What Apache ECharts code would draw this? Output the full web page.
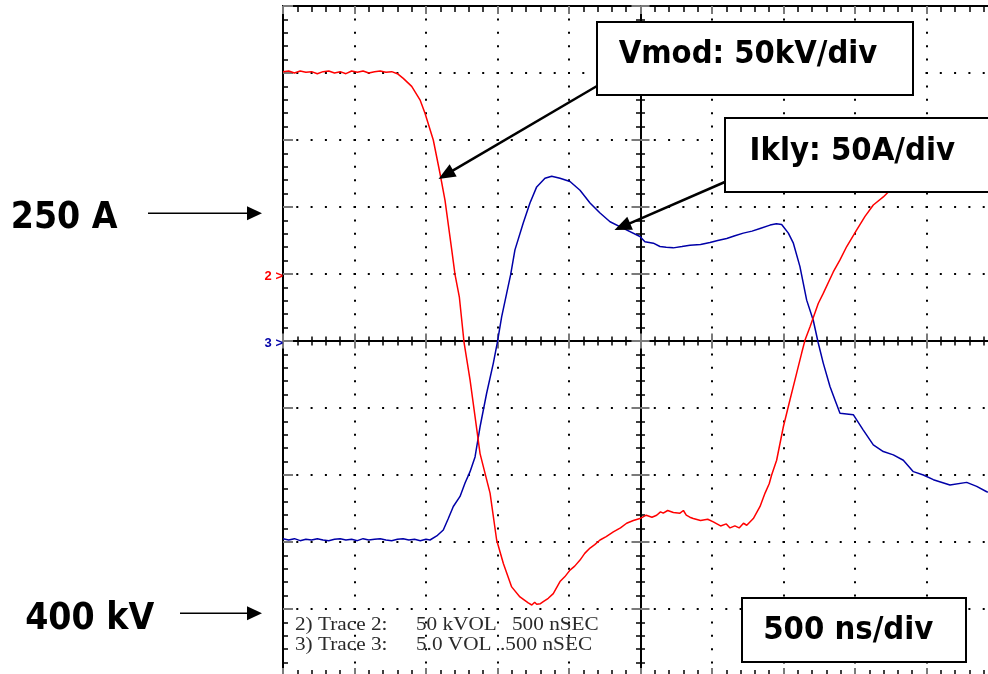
<!DOCTYPE html>
<html><head><meta charset="utf-8">
<script src="https://cdn.jsdelivr.net/npm/echarts@6/dist/echarts.min.js"></script>
<style>html,body{margin:0;padding:0;background:#fff}#c{width:988px;height:674px}</style>
</head><body><div id="c"></div>
<script>
// ---- data: time in ns (screen centre = 0), amplitude in screen divisions ----
const vmodTimeNs = [-2500,-2460,-2420,-2380,-2340,-2300,-2260,-2220,-2180,-2140,-2100,-2060,-2020,-1980,-1940,-1900,-1860,-1820,-1780,-1740,-1700,
  -1659,-1600,-1542,-1507,-1449,-1402,-1367,-1320,-1297,-1267,-1234,-1192,-1157,-1122,-1052,-1006,-959,-901,-843,-785,-760,-740,-726,-700,-680,-645,-610,-563,-530,-493,-460,-423,-390,-353,-320,-283,-240,-190,-140,-97,-50,-4,
  40,80,113,140,159,190,230,276,300,320,345,369,420,470,509,560,600,626,660,690,720,743,789,836,871,900,917,952,999,1045,1092,1127,1150,1185,1243,1278,1348,1395,1442,1512,1570,1628,1698,1745,1850];
const vmodDiv = [4.02,4.03,4.00,4.03,4.01,4.02,3.99,4.02,4.03,4.00,4.02,3.99,4.03,4.01,4.03,4.00,4.02,4.03,4.01,4.02,3.99,
  3.92,3.80,3.60,3.40,3.00,2.50,2.10,1.36,0.99,0.66,-0.02,-0.58,-1.13,-1.68,-2.27,-2.97,-3.32,-3.67,-3.82,-3.91,-3.94,-3.90,-3.93,-3.92,-3.89,-3.84,-3.77,-3.59,-3.52,-3.42,-3.36,-3.27,-3.17,-3.09,-3.04,-2.97,-2.92,-2.85,-2.79,-2.72,-2.68,-2.65,
  -2.60,-2.63,-2.60,-2.55,-2.57,-2.53,-2.56,-2.57,-2.53,-2.60,-2.63,-2.65,-2.68,-2.66,-2.70,-2.76,-2.73,-2.79,-2.76,-2.79,-2.72,-2.75,-2.65,-2.47,-2.27,-2.13,-2.00,-1.78,-1.28,-0.88,-0.48,-0.18,0.01,0.21,0.56,0.71,1.03,1.21,1.41,1.66,1.86,2.03,2.15,2.25,2.58];

const iklyTimeNs = [-2500,-2460,-2420,-2380,-2340,-2300,-2260,-2220,-2180,-2140,-2100,-2060,-2020,-1980,-1940,-1900,-1860,-1820,-1780,-1740,-1700,-1660,-1620,-1580,-1540,-1500,-1472,
  -1425,-1379,-1344,-1309,-1262,-1227,-1192,-1157,-1122,-1076,-1029,-1001,-971,-936,-908,-878,-820,-773,-726,-668,-621,-563,-493,-423,-353,-283,-213,-120,-4,
  31,90,136,180,229,290,346,420,486,540,603,660,719,780,836,906,950,987,1034,1069,1115,1162,1208,1243,1278,1325,1360,1395,1488,1558,1628,1698,1768,1838,1908,1978,2048,2164,2281,2351,2421,2500];
const iklyDiv = [-2.95,-2.97,-2.95,-2.98,-2.96,-2.97,-2.95,-2.97,-2.98,-2.96,-2.95,-2.97,-2.96,-2.98,-2.95,-2.97,-2.96,-2.95,-2.97,-2.98,-2.96,-2.95,-2.97,-2.96,-2.98,-2.96,-2.97,
  -2.91,-2.82,-2.65,-2.47,-2.32,-2.12,-1.95,-1.73,-1.28,-0.78,-0.33,-0.02,0.36,0.71,0.99,1.36,1.76,2.06,2.30,2.43,2.46,2.43,2.38,2.25,2.06,1.91,1.78,1.68,1.56,
  1.48,1.46,1.41,1.40,1.39,1.41,1.43,1.44,1.47,1.50,1.53,1.57,1.61,1.64,1.68,1.73,1.75,1.74,1.61,1.46,1.11,0.61,0.31,-0.03,-0.33,-0.68,-0.88,-1.08,-1.10,-1.33,-1.55,-1.65,-1.70,-1.78,-1.95,-2.00,-2.07,-2.15,-2.11,-2.17,-2.25,-2.28];

const timeRange = [-2500, 2500], timeStepNs = 500;   // 500 ns/div, 10 div
const divRange = [-5, 5], divStep = 1;

// ---- styles ----
const BLK = '#000', GREY = '#7a7a7a';
function xAx(pos, onZero, major, minor, split) {
  return {type:'value', position:pos, min:timeRange[0], max:timeRange[1], interval:timeStepNs,
    axisLine:{show:true, onZero:onZero, onZeroAxisIndex:0, symbol:'none', lineStyle:{color:BLK, width:2}},
    axisTick:{show:true, inside:true, length:major, lineStyle:{color:GREY, width:2}},
    minorTick:{show:true, splitNumber:5, length:minor, lineStyle:{color:BLK, width:1.5}},
    axisLabel:{show:false}, minorSplitLine:{show:false},
    splitLine:{show:split, lineStyle:{color:BLK, width:2, type:[2, 11.4], dashOffset:1}}};
}
function yAx(pos, onZero, major, minor, split) {
  return {type:'value', position:pos, min:divRange[0], max:divRange[1], interval:divStep,
    axisLine:{show:true, onZero:onZero, onZeroAxisIndex:0, symbol:'none', lineStyle:{color:BLK, width:2}},
    axisTick:{show:true, inside:true, length:major, lineStyle:{color:GREY, width:2}},
    minorTick:{show:true, splitNumber:5, length:minor, lineStyle:{color:BLK, width:1.5}},
    axisLabel:{show:false}, minorSplitLine:{show:false},
    splitLine:{show:split, lineStyle:{color:BLK, width:2, type:[2, 12.3], dashOffset:1}}};
}

function arrow(x1, y1, x2, y2, w, L, H) {
  const dx = x2 - x1, dy = y2 - y1, len = Math.hypot(dx, dy), ux = dx / len, uy = dy / len;
  const bx = x2 - ux * L, by = y2 - uy * L, nx = -uy, ny = ux;
  return [
    {type:'polyline', z:60, shape:{points:[[x1, y1], [bx + ux, by + uy]]}, style:{stroke:BLK, lineWidth:w, fill:null}},
    {type:'polygon', z:60, shape:{points:[[x2, y2], [bx + nx * H, by + ny * H], [bx - nx * H, by - ny * H]]}, style:{fill:BLK, stroke:null}}
  ];
}
function txt(t, x, y, font, fill, align, sx) {
  return {type:'text', z:80, x:x, y:y, scaleX:sx,
    style:{text:t, x:0, y:0, font:font, fill:fill, textAlign:align, align:align, textVerticalAlign:'middle', verticalAlign:'middle'}};
}
function box(x, y, w, h) {
  return {type:'rect', z:70, shape:{x:x, y:y, width:w, height:h}, style:{fill:'#fff', stroke:BLK, lineWidth:2}};
}
const BIG = (s) => 'bold ' + s + 'px "DejaVu Sans"';
const SER = '18px "Liberation Serif"';
const MARK = 'bold 13px "Liberation Sans"';

const graphics = [].concat(
  arrow(597, 86, 438.5, 179, 2.5, 17, 7),
  arrow(726, 181.5, 614.5, 230, 2.5, 17, 7),
  arrow(148, 213.3, 262, 213.3, 1.6, 15, 7),
  arrow(180, 613.3, 262, 613.3, 1.6, 15, 7),
  [
    box(597, 22, 316, 73),
    box(725, 118, 290, 74),
    box(742, 598, 224, 64),
    txt('Vmod: 50kV/div', 748, 54.2, BIG(32.4), BLK, 'center', 0.9),
    txt('Ikly: 50A/div', 852.3, 151.2, BIG(32.5), BLK, 'center', 0.9),
    txt('500 ns/div', 848.3, 630.6, BIG(32.5), BLK, 'center', 0.9),
    txt('250 A', 64.2, 218.6, BIG(37), BLK, 'center', 0.9),
    txt('400 kV', 89.7, 619, BIG(37), BLK, 'center', 0.9),
    txt('2) Trace 2:', 295, 625.5, SER, '#2a2a2a', 'left', 1.18),
    txt('50 kVOL', 416, 625.5, SER, '#2a2a2a', 'left', 1.18),
    txt('500 nSEC', 512, 625.5, SER, '#2a2a2a', 'left', 1.18),
    txt('3) Trace 3:', 295, 645.5, SER, '#2a2a2a', 'left', 1.18),
    txt('5.0 VOL', 416, 645.5, SER, '#2a2a2a', 'left', 1.18),
    txt('.500 nSEC', 500, 645.5, SER, '#2a2a2a', 'left', 1.18),
    txt('2 >', 283, 276.5, MARK, '#ff0000', 'right', 1),
    txt('3 >', 283, 343.5, MARK, '#0000a8', 'right', 1)
  ]
);

const chart = echarts.init(document.getElementById('c'), null, {renderer:'canvas'});
chart.setOption({
  animation:false,
  backgroundColor:'#fff',
  grid:{left:283, top:6, width:715, height:670, containLabel:false, outerBoundsMode:'none'},
  xAxis:[ xAx('top', false, 8, 6, true), xAx('bottom', false, 8, 6, false),
          xAx('bottom', true, 7.5, 4.5, false), xAx('top', true, 7.5, 4.5, false) ],
  yAxis:[ yAx('left', false, 10, 5, true), yAx('right', false, 10, 5, false),
          yAx('left', true, 9, 4.5, false), yAx('right', true, 9, 4.5, false) ],
  series:[
    {name:'Ikly', type:'line', xAxisIndex:0, yAxisIndex:0, showSymbol:false, symbol:'none', z:3,
     lineStyle:{color:'#0000a8', width:1.5}, data:iklyTimeNs.map((t, i) => [t, iklyDiv[i]])},
    {name:'Vmod', type:'line', xAxisIndex:0, yAxisIndex:0, showSymbol:false, symbol:'none', z:4,
     lineStyle:{color:'#ff0000', width:1.5}, data:vmodTimeNs.map((t, i) => [t, vmodDiv[i]])}
  ],
  graphic:graphics
});
</script></body></html>
